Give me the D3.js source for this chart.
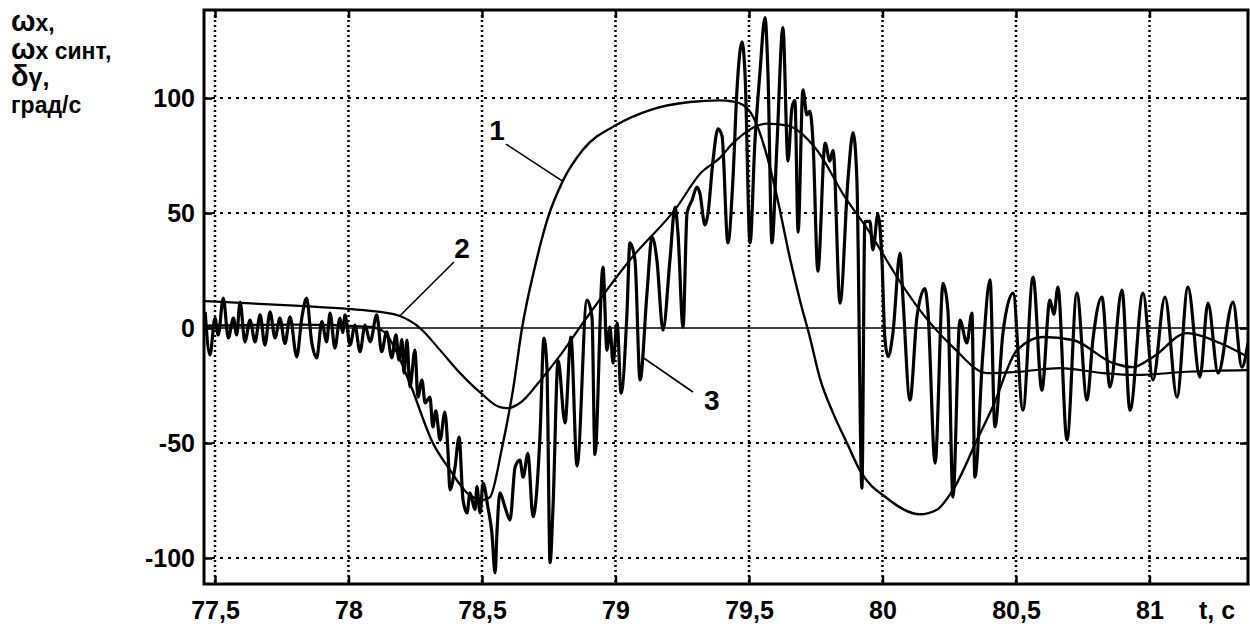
<!DOCTYPE html>
<html>
<head>
<meta charset="utf-8">
<script src="https://cdn.jsdelivr.net/npm/d3@7"></script>
<style>
  body { margin: 0; background: #fff; }
  svg { display: block; }
  .tick text { font-family: "Liberation Sans", Arial, sans-serif; font-weight: bold; font-size: 25px; fill: #000; }
</style>
</head>
<body>
<svg id="chart" width="1250" height="626"></svg>
<script>
// axis ticks
const xTicks = [77.5, 78, 78.5, 79, 79.5, 80, 80.5, 81];
const yTicks = [-100, -50, 0, 50, 100];

// curve 1 (smooth, big swing)
const curve1 = [
  [77.463, 1], [77.818, 1.5], [78.081, 0.5], [78.137, -2], [78.174, -9], [78.230, -24],
  [78.316, -50], [78.380, -61.7], [78.444, -71.7], [78.504, -74.8], [78.530, -73.5],
  [78.575, -52], [78.616, -27], [78.650, 0], [78.699, 27], [78.747, 48], [78.803, 64],
  [78.878, 77.5], [79.006, 88.5], [79.129, 94.8], [79.279, 98.3], [79.391, 99], [79.440, 98.5],
  [79.478, 97], [79.515, 92], [79.567, 75], [79.605, 57], [79.654, 30], [79.691, 12],
  [79.728, -4], [79.766, -22], [79.815, -37], [79.867, -50], [79.916, -62], [80.017, -74],
  [80.140, -81], [80.204, -79], [80.264, -70.4], [80.354, -48.7], [80.414, -34], [80.504, -9.6],
  [80.601, -3.9], [80.713, -5.2], [80.863, -15.2], [80.938, -17], [81.013, -12.6],
  [81.140, -2.2], [81.264, -6.5], [81.369, -12.6]
];

// curve 2 (smooth, slower)
const curve2 = [
  [77.463, 11.7], [77.818, 9.6], [78.0, 8.3], [78.118, 7], [78.193, 5.2], [78.268, 0],
  [78.343, -9.6], [78.418, -19.6], [78.493, -28], [78.567, -34.4], [78.597, -34.8],
  [78.642, -32.6], [78.717, -23], [78.792, -12], [78.878, 2.2], [79.054, 29.6], [79.230, 52.6],
  [79.316, 67], [79.391, 74], [79.440, 80.4], [79.567, 88.9], [79.642, 88.1], [79.755, 77.3],
  [79.859, 57], [79.942, 43.3], [80.066, 20.1], [80.140, 7.8], [80.264, -8.3], [80.391, -19.6],
  [80.515, -19], [80.665, -17.4], [80.826, -19.6], [80.953, -20.4], [81.140, -19], [81.369, -18.3]
];

// curve 3 (measured, noisy)
const curve3 = [
  [77.463, 7], [77.481, -11.7], [77.500, 4.3], [77.512, -3], [77.531, 13], [77.550, -4.3],
  [77.569, 4.3], [77.581, -3], [77.594, 11.3], [77.612, -6], [77.631, 3.5], [77.650, -6],
  [77.669, 5.7], [77.687, -7.4], [77.706, 7], [77.725, -4.3], [77.743, 4.3], [77.762, -6.7],
  [77.781, 4.9], [77.806, -12.5], [77.825, 4.3], [77.843, 13], [77.862, -6], [77.881, -13],
  [77.900, 2.8], [77.918, -6], [77.931, 6.5], [77.949, -8.7], [77.968, 4.3], [77.978, -2],
  [77.987, 5.7], [78.006, -7.4], [78.024, 1.3], [78.043, -10.3], [78.062, 1.3], [78.081, -6],
  [78.106, 5.7], [78.124, -10.3], [78.143, -1.6], [78.162, -13], [78.178, -3], [78.189, -14],
  [78.200, -5], [78.208, -19.6], [78.219, -5.2], [78.230, -25.6], [78.249, -9.6], [78.260, -30],
  [78.275, -22.6], [78.287, -32.6], [78.305, -30], [78.316, -43], [78.327, -36], [78.343, -48.7],
  [78.361, -36.5], [78.373, -54.5], [78.380, -70.4], [78.399, -60.4], [78.414, -47.4],
  [78.429, -74.8], [78.444, -80.4], [78.455, -71.7], [78.474, -79], [78.481, -69], [78.493, -80.4],
  [78.504, -67.4], [78.522, -77.8], [78.537, -89], [78.549, -106.5], [78.556, -89], [78.567, -71.7],
  [78.586, -77.8], [78.605, -83.5], [78.624, -60.4], [78.642, -57.4], [78.654, -64.8],
  [78.672, -54.5], [78.691, -82], [78.717, -47.4], [78.732, -4.4], [78.743, -16.5], [78.755, -102],
  [78.766, -77.8], [78.785, -14], [78.811, -41.3], [78.833, -3.9], [78.856, -60], [78.893, 12.2],
  [78.912, 4.8], [78.923, -55], [78.953, 26.5], [78.968, -9.6], [78.979, 0.4], [78.991, -15.2],
  [79.006, 2.2], [79.021, -28.3], [79.043, 6.5], [79.054, 37], [79.073, 29.6], [79.092, -22.6],
  [79.118, 15.2], [79.137, 39.6], [79.155, 29.6], [79.178, -0.9], [79.204, 29.6], [79.223, 52.6],
  [79.234, 41.3], [79.253, 0.4], [79.268, 50], [79.287, 55.7], [79.305, 61.3], [79.316, 58.7],
  [79.335, 44.8], [79.346, 49.5], [79.365, 72.6], [79.384, 86.6], [79.399, 83.5], [79.421, 37],
  [79.440, 65], [79.455, 103.6], [79.474, 124.4], [79.485, 111], [79.504, 37], [79.522, 80.4],
  [79.541, 111], [79.560, 135], [79.571, 111], [79.586, 37], [79.605, 80.4], [79.627, 130.6],
  [79.646, 72.6], [79.661, 95.8], [79.672, 99], [79.684, 41.7], [79.702, 103.6], [79.717, 92.7],
  [79.728, 94.3], [79.740, 80.4], [79.758, 24.7], [79.785, 80.4], [79.803, 72.6], [79.815, 77.3],
  [79.841, 10.8], [79.871, 65], [79.890, 85], [79.904, 65], [79.923, -69.6], [79.934, 46.4],
  [79.953, 46.4], [79.964, 34], [79.983, 49.5], [79.998, 29.4], [80.009, -4.6], [80.021, -12.4],
  [80.039, -2.3], [80.066, 32.6], [80.077, 12.2], [80.103, -31.3], [80.129, 4.8], [80.159, 17.2],
  [80.170, 7.8], [80.197, -58.7], [80.227, 19.4], [80.245, 7.8], [80.264, -73.5], [80.290, 3.5],
  [80.316, -6.5], [80.335, 6.5], [80.346, -64.8], [80.376, -11], [80.403, 21], [80.421, -43],
  [80.451, -2.3], [80.489, 15.2], [80.526, -35.7], [80.564, 22.2], [80.597, -27], [80.627, 12.2],
  [80.642, 6], [80.657, 17.8], [80.691, -48.7], [80.728, 15.2], [80.766, -31.3], [80.788, -5.2],
  [80.822, 13.5], [80.852, -25.6], [80.897, 16.5], [80.927, -35.7], [80.976, 15.2], [81.013, -22.6],
  [81.058, 13.5], [81.103, -30], [81.144, 17.8], [81.189, -21.3], [81.219, 10.9], [81.257, -19.6],
  [81.313, 11.3], [81.346, -17], [81.369, -6.5]
];

const fontFamily = '"Liberation Sans", Arial, sans-serif';
const svg = d3.select("#chart");

const plot = { left: 204, right: 1248, top: 10, bottom: 584 };

const x = d3.scaleLinear().domain([77.4588, 81.369]).range([plot.left, plot.right]);
const y = d3.scaleLinear().domain([-111.3, 138.3]).range([plot.bottom, plot.top]);

const fmt = d => String(d).replace(".", ",");

svg.append("defs").append("clipPath").attr("id", "clip")
  .append("rect")
  .attr("x", plot.left).attr("y", plot.top)
  .attr("width", plot.right - plot.left).attr("height", plot.bottom - plot.top);

// grid
const grid = svg.append("g");
grid.selectAll(".vg").data(xTicks).enter().append("line")
  .attr("x1", d => x(d)).attr("x2", d => x(d))
  .attr("y1", plot.top).attr("y2", plot.bottom)
  .attr("stroke", "#000").attr("stroke-width", 2.5)
  .attr("stroke-dasharray", "2,3");
grid.selectAll(".hg").data(yTicks.filter(d => d !== 0)).enter().append("line")
  .attr("x1", plot.left).attr("x2", plot.right)
  .attr("y1", d => y(d)).attr("y2", d => y(d))
  .attr("stroke", "#000").attr("stroke-width", 2)
  .attr("stroke-dasharray", "3,5");
grid.append("line")
  .attr("x1", plot.left).attr("x2", plot.right)
  .attr("y1", y(0)).attr("y2", y(0))
  .attr("stroke", "#000").attr("stroke-width", 1.6);

// curves
const smooth = d3.line().x(d => x(d[0])).y(d => y(d[1])).curve(d3.curveMonotoneX);

const curves = svg.append("g").attr("clip-path", "url(#clip)");
curves.append("path").datum(curve2).attr("d", smooth)
  .attr("fill", "none").attr("stroke", "#000").attr("stroke-width", 2.2);
curves.append("path").datum(curve1).attr("d", smooth)
  .attr("fill", "none").attr("stroke", "#000").attr("stroke-width", 2.4);
curves.append("path").datum(curve3).attr("d", smooth)
  .attr("fill", "none").attr("stroke", "#000").attr("stroke-width", 3.2)
  .attr("stroke-linejoin", "round");

// axes with inward ticks
svg.append("g").attr("transform", `translate(0,${plot.bottom})`)
  .call(d3.axisBottom(x).tickValues(xTicks).tickFormat(fmt)
    .tickSizeInner(-8).tickSizeOuter(0).tickPadding(17));
svg.append("g").attr("transform", `translate(${plot.left},0)`)
  .call(d3.axisLeft(y).tickValues(yTicks).tickFormat(fmt)
    .tickSizeInner(-8).tickSizeOuter(0).tickPadding(9));
svg.append("g").attr("transform", `translate(0,${plot.top})`)
  .call(d3.axisTop(x).tickValues(xTicks).tickFormat("").tickSizeInner(-8).tickSizeOuter(0));
svg.append("g").attr("transform", `translate(${plot.right},0)`)
  .call(d3.axisRight(y).tickValues(yTicks).tickFormat("").tickSizeInner(-8).tickSizeOuter(0));

svg.selectAll(".domain").remove();
svg.selectAll(".tick line").attr("stroke", "#000").attr("stroke-width", 2.5);

// frame
svg.append("rect")
  .attr("x", plot.left).attr("y", plot.top)
  .attr("width", plot.right - plot.left).attr("height", plot.bottom - plot.top)
  .attr("fill", "none").attr("stroke", "#000").attr("stroke-width", 3);

// x unit
svg.append("text")
  .attr("x", 1199).attr("y", 619)
  .attr("font-family", fontFamily).attr("font-weight", "bold").attr("font-size", 25)
  .text("t, c");

// y title
const title = svg.append("g")
  .attr("font-family", fontFamily).attr("font-weight", "bold").attr("fill", "#000");
const titleLines = [
  { big: "ω", small: "x,", y: 31 },
  { big: "ω", small: "x синт,", y: 59 },
  { big: "δ", small: "γ,", y: 86 },
  { big: "", small: "град/с", y: 113 }
];
titleLines.forEach(l => {
  const t = title.append("text").attr("x", 11).attr("y", l.y);
  if (l.big) t.append("tspan").attr("font-size", 29).text(l.big);
  t.append("tspan").attr("font-size", l.big === "δ" ? 25 : 23).text(l.small);
});

// curve labels with leader lines
const labels = [
  { text: "1", tx: 78.556, ty: 81.7, from: [78.8, 64], to: [78.59, 80] },
  { text: "2", tx: 78.425, ty: 30.4, from: [78.19, 5], to: [78.395, 28.7] },
  { text: "3", tx: 79.361, ty: -35.7, from: [79.1, -12.6], to: [79.29, -27.8] }
];
labels.forEach(l => {
  svg.append("line")
    .attr("x1", x(l.from[0])).attr("y1", y(l.from[1]))
    .attr("x2", x(l.to[0])).attr("y2", y(l.to[1]))
    .attr("stroke", "#000").attr("stroke-width", 1.6);
  svg.append("text")
    .attr("x", x(l.tx)).attr("y", y(l.ty))
    .attr("text-anchor", "middle")
    .attr("font-family", fontFamily).attr("font-weight", "bold").attr("font-size", 28)
    .text(l.text);
});
</script>
</body>
</html>
